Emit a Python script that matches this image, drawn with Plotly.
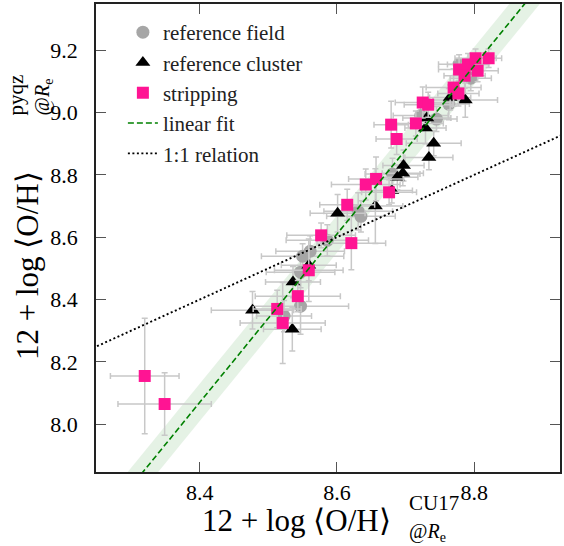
import numpy as np
import plotly.graph_objects as go

# ---- data: 12+log(O/H) at R_e, CU17 calibration (x) vs pyqz (y) ----
field_x = [8.523, 8.547, 8.547, 8.550, 8.561, 8.586, 8.631, 8.635, 8.681, 8.722, 8.745, 8.763, 8.778, 8.795]
field_y = [8.347, 8.379, 8.488, 8.539, 8.555, 8.590, 8.683, 8.667, 8.803, 8.990, 8.979, 9.027, 9.155, 9.110]
field_ex = [0.04, 0.07, 0.05, 0.06, 0.05, 0.06, 0.05, 0.05, 0.04, 0.04, 0.03, 0.03, 0.03, 0.03]
field_ey = [0.05, 0.09, 0.05, 0.04, 0.05, 0.05, 0.06, 0.05, 0.05, 0.05, 0.04, 0.05, 0.03, 0.04]

cluster_x = [8.477, 8.535, 8.536, 8.559, 8.601, 8.656, 8.680, 8.688, 8.696, 8.697, 8.734, 8.741, 8.729, 8.731, 8.765, 8.787]
cluster_y = [8.366, 8.305, 8.456, 8.510, 8.677, 8.700, 8.750, 8.792, 8.805, 8.830, 8.856, 8.901, 8.950, 8.982, 9.048, 9.040]
cluster_ex = [0.06, 0.042, 0.04, 0.04, 0.04, 0.04, 0.03, 0.03, 0.03, 0.03, 0.035, 0.04, 0.03, 0.035, 0.03, 0.047]
cluster_ey = [0.06, 0.07, 0.05, 0.05, 0.06, 0.12, 0.04, 0.04, 0.04, 0.05, 0.04, 0.04, 0.05, 0.04, 0.04, 0.055]

strip_x = [8.320, 8.349, 8.513, 8.521, 8.543, 8.559, 8.577, 8.621, 8.615, 8.642, 8.657, 8.676, 8.679,
           8.687, 8.715, 8.725, 8.733, 8.770, 8.777, 8.778, 8.791, 8.802, 8.786, 8.805, 8.821]
strip_y = [8.155, 8.065, 8.370, 8.325, 8.411, 8.494, 8.606, 8.581, 8.704, 8.769, 8.787, 8.744, 8.961,
           8.915, 8.965, 9.032, 9.025, 9.080, 9.061, 9.138, 9.154, 9.174, 9.118, 9.134, 9.174]
strip_ex = [0.05, 0.068, 0.035, 0.062, 0.062, 0.05, 0.05, 0.05, 0.04, 0.05, 0.04, 0.04, 0.025,
            0.03, 0.04, 0.04, 0.035, 0.04, 0.03, 0.03, 0.03, 0.03, 0.03, 0.03, 0.019]
strip_ey = [0.185, 0.10, 0.06, 0.13, 0.05, 0.10, 0.04, 0.085, 0.05, 0.05, 0.07, 0.04, 0.075,
            0.05, 0.04, 0.05, 0.04, 0.06, 0.04, 0.035, 0.035, 0.03, 0.04, 0.035, 0.03]

# linear fit y = a*x + b and its scatter band
fit_slope = 2.70
fit_intercept = -14.61
fit_band = 0.06

x_range = [8.249, 8.925]
y_range = [7.847, 9.348]
x_ticks = [8.4, 8.6, 8.8]
y_ticks = [8.0, 8.2, 8.4, 8.6, 8.8, 9.0, 9.2]

# ---- layout geometry (pixels) ----
W, H = 564, 546
ML, MR, MT, MB = 96, 2, 3, 74
PW, PH = W - ML - MR, H - MT - MB


def px(xp):
    return (xp - ML) / PW


def py(yp):
    return (H - MB - yp) / PH


FONT = "Liberation Serif"
ERR = "#c8c8c8"

fig = go.Figure()

# fit band
xs = np.array([x_range[0] - 0.1, x_range[1] + 0.1])
ys = fit_slope * xs + fit_intercept
fig.add_trace(go.Scatter(
    x=list(xs) + list(xs[::-1]),
    y=list(ys + fit_band) + list((ys - fit_band)[::-1]),
    fill="toself", fillcolor="rgba(0,128,0,0.10)", line=dict(width=0),
    mode="lines", hoverinfo="skip", showlegend=False,
))


def err(vals):
    return dict(type="data", array=vals, color=ERR, thickness=1.5, width=3)


fig.add_trace(go.Scatter(
    x=field_x, y=field_y, mode="markers", name="reference field",
    error_x=err(field_ex), error_y=err(field_ey),
    marker=dict(symbol="circle", size=13, color="#a6a6a6"), legendrank=1,
))
fig.add_trace(go.Scatter(
    x=cluster_x, y=cluster_y, mode="markers", name="reference cluster",
    error_x=err(cluster_ex), error_y=err(cluster_ey),
    marker=dict(symbol="triangle-up", size=13, color="black"), legendrank=2,
))
fig.add_trace(go.Scatter(
    x=strip_x, y=strip_y, mode="markers", name="stripping",
    error_x=err(strip_ex), error_y=err(strip_ey),
    marker=dict(symbol="square", size=12, color="#ff1493"), legendrank=3,
))

fig.add_trace(go.Scatter(
    x=list(xs), y=list(ys), mode="lines", name="linear fit",
    line=dict(color="#008000", width=1.6, dash="6px,3px"), legendrank=4,
))
fig.add_trace(go.Scatter(
    x=list(xs), y=list(xs), mode="lines", name="1:1 relation",
    line=dict(color="black", width=1.9, dash="2px,2.5px"), legendrank=5,
))

axis_common = dict(
    showgrid=False, zeroline=False, showline=True, linecolor="#222", linewidth=1.5,
    mirror="ticks", ticks="inside", ticklen=10, tickwidth=1.3, tickcolor="#555",
    tickfont=dict(family=FONT, size=22, color="black"),
)
fig.update_xaxes(range=x_range, tickvals=x_ticks, ticktext=[f"{v:.1f}" for v in x_ticks],
                 ticklabelstandoff=0, **axis_common)
fig.update_yaxes(range=y_range, tickvals=y_ticks, ticktext=[f"{v:.1f}" for v in y_ticks],
                 ticklabelstandoff=12, **axis_common)

# axis titles built from pieces so the super- and subscripts stack
ann = []
# x title
ann.append(dict(text="12 + log ⟨O/H⟩", x=px(200), y=py(521), xanchor="left", yanchor="middle",
                font=dict(family=FONT, size=31, color="black")))
ann.append(dict(text="CU17", x=px(408), y=py(503), xanchor="left", yanchor="middle",
                font=dict(family=FONT, size=21, color="black")))
ann.append(dict(text="@<i>R</i><sub>e</sub>", x=px(408), y=py(533), xanchor="left", yanchor="middle",
                font=dict(family=FONT, size=20, color="black")))
# y title
ann.append(dict(text="12 + log ⟨O/H⟩", x=px(27), y=py(362), xanchor="center", yanchor="bottom",
                textangle=-90, font=dict(family=FONT, size=31, color="black")))
ann.append(dict(text="pyqz", x=px(16), y=py(117), xanchor="center", yanchor="bottom",
                textangle=-90, font=dict(family=FONT, size=21, color="black")))
ann.append(dict(text="@<i>R</i><sub>e</sub>", x=px(43), y=py(117), xanchor="center", yanchor="bottom",
                textangle=-90, font=dict(family=FONT, size=20, color="black")))
for a in ann:
    a.update(xref="paper", yref="paper", showarrow=False)

fig.update_layout(
    width=W, height=H, margin=dict(l=ML, r=MR, t=MT, b=MB),
    plot_bgcolor="white", paper_bgcolor="white",
    annotations=ann,
    legend=dict(x=px(123), y=py(11), xanchor="left", yanchor="top",
                bgcolor="rgba(255,255,255,0)", font=dict(family=FONT, size=21, color="#222"),
                tracegroupgap=0, itemwidth=30),
    showlegend=True,
)

fig.write_html("out.html")
